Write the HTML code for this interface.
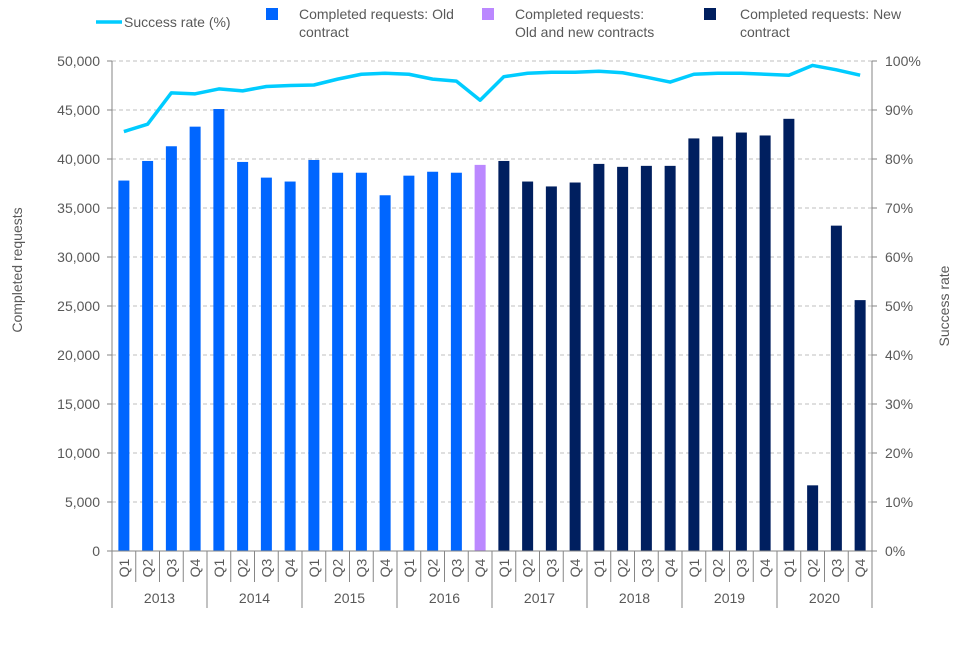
<!DOCTYPE html>
<html><head><meta charset="utf-8"><style>
body{margin:0;background:#fff;font-family:"Liberation Sans",Arial,sans-serif;}
svg text{font-family:"Liberation Sans",Arial,sans-serif;fill:#595959;}
</style></head><body>
<svg id="chart" width="960" height="640" viewBox="0 0 960 640" xmlns="http://www.w3.org/2000/svg">
<g>
 <g><line x1="96" y1="22" x2="122" y2="22" stroke="#00ccff" stroke-width="3.5"/><text x="124" y="27" font-size="14">Success rate (%)</text></g>
 <g><rect x="266" y="8" width="12" height="12" fill="#0066ff"/><text x="299" y="19" font-size="14">Completed requests: Old</text><text x="299" y="37" font-size="14">contract</text></g>
 <g><rect x="482" y="8" width="12" height="12" fill="#bb88ff"/><text x="515" y="19" font-size="14">Completed requests:</text><text x="515" y="37" font-size="14">Old and new contracts</text></g>
 <g><rect x="704" y="8" width="12" height="12" fill="#001f5f"/><text x="740" y="19" font-size="14">Completed requests: New</text><text x="740" y="37" font-size="14">contract</text></g>
</g>
<g id="grid"></g>
<g id="bars"></g>
<g id="axes"></g>
<g id="line"></g>
<text x="22" y="270" font-size="14" text-anchor="middle" transform="rotate(-90 22 270)">Completed requests</text>
<text x="949" y="306" font-size="14" text-anchor="middle" transform="rotate(-90 949 306)">Success rate</text>
</svg>
<script>
const years = ["2013","2014","2015","2016","2017","2018","2019","2020"];
const quarters = ["Q1","Q2","Q3","Q4"];
const requests = [37800,39800,41300,43300, 45100,39700,38100,37700, 39900,38600,38600,36300, 38300,38700,38600,39400, 39800,37700,37200,37600, 39500,39200,39300,39300, 42100,42300,42700,42400, 44100,6700,33200,25600];
const contractType = ["old","old","old","old","old","old","old","old","old","old","old","old","old","old","old","mixed","new","new","new","new","new","new","new","new","new","new","new","new","new","new","new","new"];
const successRate = [85.6,87.1,93.5,93.3, 94.3,93.9,94.8,95.0, 95.1,96.3,97.3,97.5, 97.3,96.3,95.9,92.0, 96.8,97.5,97.7,97.7, 97.9,97.6,96.7,95.7, 97.3,97.5,97.5,97.3, 97.1,99.1,98.2,97.1];
const leftTicks = [0,5000,10000,15000,20000,25000,30000,35000,40000,45000,50000];
const rightTicks = [0,10,20,30,40,50,60,70,80,90,100];

const NS="http://www.w3.org/2000/svg";
const X0=112,X1=872,Y0=551,Y1=61;
const n=requests.length, cw=(X1-X0)/n;
const xc=i=>X0+cw*(i+0.5);
const yL=v=>Y0-(v/50000)*(Y0-Y1);
const yR=v=>Y0-(v/100)*(Y0-Y1);
const colors={old:"#0066ff",mixed:"#bb88ff",new:"#001f5f"};
function mk(tag,attrs,parent){const e=document.createElementNS(NS,tag);for(const k in attrs)e.setAttribute(k,attrs[k]);parent.appendChild(e);return e;}
const grid=document.getElementById("grid"),axes=document.getElementById("axes"),bars=document.getElementById("bars"),line=document.getElementById("line");
leftTicks.forEach((t,i)=>{
 const y=yL(t);
 if(t>0){const g=mk("line",{x1:X0,x2:X1,y1:y,y2:y,stroke:"#bfbfbf","stroke-dasharray":"4,3"},grid);
 
 }
 const tk=mk("line",{x1:X0-5,x2:X0,y1:y,y2:y,stroke:"#868686"},axes);
 
 
 const tx=mk("text",{x:X0-12,y:y+5,"font-size":"14","text-anchor":"end"},axes);
 tx.textContent=t.toLocaleString("en-US");
 
 
});
rightTicks.forEach(t=>{
 const y=yR(t);
 const tk=mk("line",{x1:X1,x2:X1+5,y1:y,y2:y,stroke:"#868686"},axes);
 
 
 const tx=mk("text",{x:X1+13,y:y+5,"font-size":"14"},axes);
 tx.textContent=t+"%";
 
 
});
let a=mk("line",{x1:X0,x2:X0,y1:Y1,y2:Y0,stroke:"#868686"},axes);


a=mk("line",{x1:X1,x2:X1,y1:Y1,y2:Y0,stroke:"#868686"},axes);


a=mk("line",{x1:X0,x2:X1,y1:Y0,y2:Y0,stroke:"#868686"},axes);


requests.forEach((v,i)=>{
 const bw=11;
 const r=mk("rect",{x:xc(i)-bw/2,y:yL(v),width:bw,height:Y0-yL(v),fill:colors[contractType[i]]},bars);
 
 
 const q=mk("text",{x:0,y:0,"font-size":"14","text-anchor":"middle",transform:`translate(${xc(i)+5},${568}) rotate(-90)`},axes);
 q.textContent=quarters[i%4];
 
 
});
for(let i=0;i<=n;i++){
 const x=X0+cw*i;
 const len=(i%4===0)?608:582;
 const s=mk("line",{x1:x,x2:x,y1:Y0,y2:len,stroke:"#868686"},axes);
 
 
}
years.forEach((y,j)=>{
 const t=mk("text",{x:X0+cw*(4*j+2),y:603,"font-size":"14","text-anchor":"middle"},axes);
 t.textContent=y;
 
 
});
const p=mk("polyline",{points:successRate.map((v,i)=>xc(i)+","+yR(v)).join(" "),fill:"none",stroke:"#00ccff","stroke-width":"3.5","stroke-linejoin":"round"},line);


</script>
</body></html>
